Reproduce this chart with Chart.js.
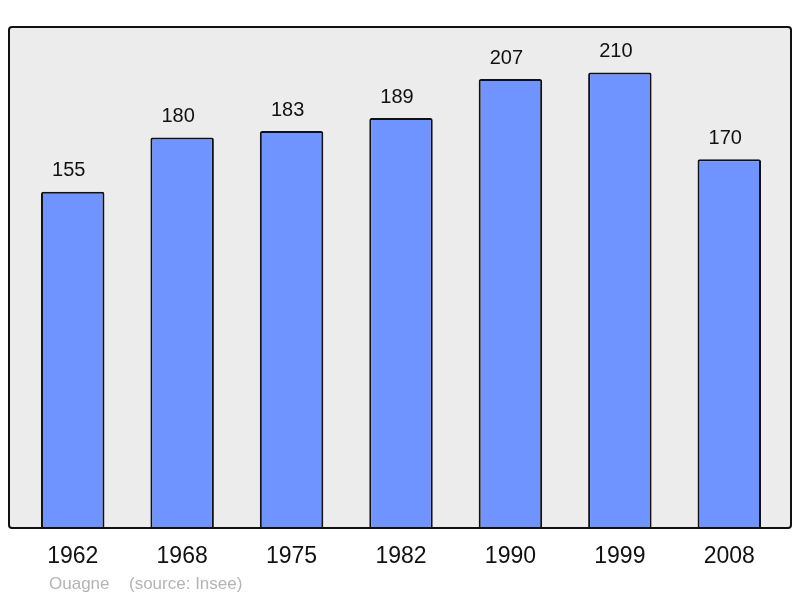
<!DOCTYPE html>
<html>
<head>
<meta charset="utf-8">
<script src="https://cdn.jsdelivr.net/npm/chart.js@4/dist/chart.umd.min.js"></script>
<style>
  html, body { margin: 0; padding: 0; background: #fff; }
  #wrap { width: 800px; height: 598px; }
</style>
</head>
<body>
<div id="wrap"><canvas id="popChart" width="800" height="598"></canvas></div>
<script>
const years = ['1962', '1968', '1975', '1982', '1990', '1999', '2008'];
const population = [155, 180, 183, 189, 207, 210, 170];
const townName = 'Ouagne';
const sourceText = '(source: Insee)';

const fontFamily = '"Liberation Sans", Arial, sans-serif';

// grey frame behind the plot + value labels + footer
const framePlugin = {
  id: 'frame',
  beforeDatasetsDraw(chart) {
    const { ctx, chartArea } = chart;
    const x = chartArea.left - 9, y = chartArea.top;
    const w = chartArea.right + 7 - x, h = chartArea.bottom - y;
    ctx.save();
    ctx.beginPath();
    ctx.roundRect(x, y, w, h, 3);
    ctx.fillStyle = '#ececec';
    ctx.fill();
    ctx.restore();
  },
  afterDatasetsDraw(chart) {
    const { ctx, chartArea } = chart;
    const x = chartArea.left - 9, y = chartArea.top;
    const w = chartArea.right + 7 - x, h = chartArea.bottom - y;
    ctx.save();
    ctx.beginPath();
    ctx.roundRect(x, y, w, h, 3);
    ctx.lineWidth = 2;
    ctx.strokeStyle = '#111';
    ctx.stroke();

    ctx.fillStyle = '#111';
    ctx.font = '20px ' + fontFamily;
    ctx.textAlign = 'center';
    ctx.textBaseline = 'bottom';
    chart.getDatasetMeta(0).data.forEach((bar, i) => {
      ctx.fillText(String(population[i]), bar.x - 4, bar.y - 11);
    });

    ctx.fillStyle = '#b4b4b4';
    ctx.font = '17px ' + fontFamily;
    ctx.textAlign = 'left';
    ctx.textBaseline = 'middle';
    ctx.fillText(townName, 49, 584);
    ctx.fillText(sourceText, 129, 584);
    ctx.restore();
  }
};

new Chart(document.getElementById('popChart'), {
  type: 'bar',
  data: {
    labels: years,
    datasets: [{
      data: population,
      backgroundColor: '#7094ff',
      borderColor: '#111',
      borderWidth: 2,
      borderSkipped: 'bottom',
      borderRadius: { topLeft: 2, topRight: 2 },
      categoryPercentage: 1,
      barPercentage: 0.58
    }]
  },
  options: {
    responsive: false,
    animation: false,
    layout: { padding: { left: 18, right: 16, top: 27, bottom: 0 } },
    plugins: {
      legend: { display: false },
      tooltip: { enabled: false }
    },
    scales: {
      x: {
        grid: { display: false },
        border: { display: false },
        ticks: {
          color: '#111',
          padding: 7,
          font: { size: 23, family: fontFamily }
        },
        afterFit(scale) { scale.height = 70; }
      },
      y: {
        display: false,
        min: 0,
        max: 231
      }
    }
  },
  plugins: [framePlugin]
});
</script>
</body>
</html>
